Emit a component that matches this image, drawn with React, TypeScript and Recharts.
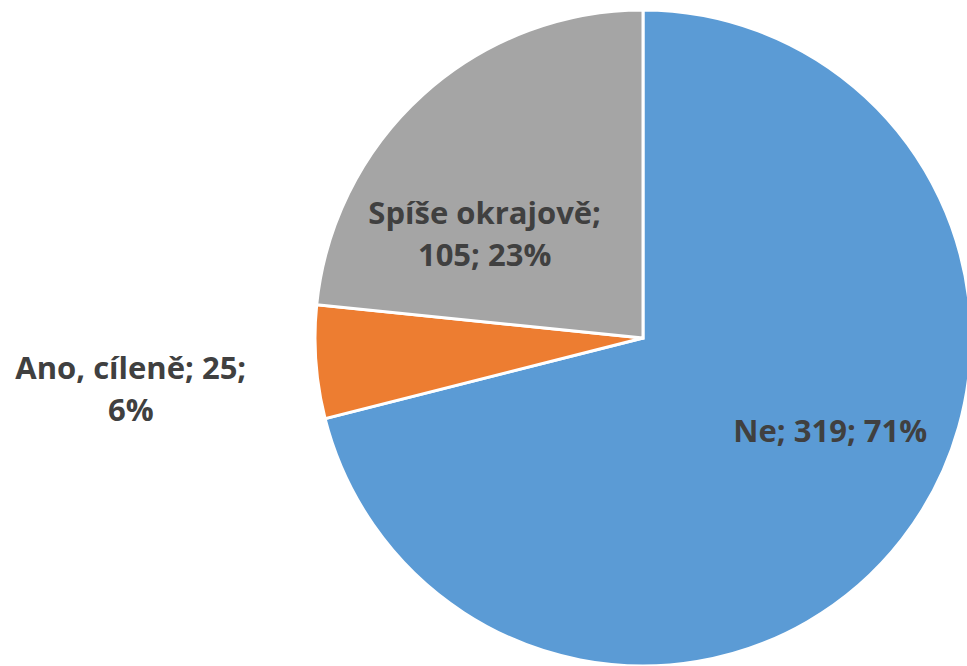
import React from 'react';
import { PieChart, Pie, Cell } from 'recharts';

const CATEGORIES = ['Ne', 'Ano, cíleně', 'Spíše okrajově'];
const COUNTS = [319, 25, 105];
const PERCENTS = ['71%', '6%', '23%'];
const COLORS = ['#5B9BD5', '#ED7D31', '#A5A5A5'];

// label placement per slice: radius factor and angle shift (degrees), plus line breaks
const LABEL_LAYOUT = [
  { rf: 0.64, shift: 11, lines: (i: number) => [`${CATEGORIES[i]}; ${COUNTS[i]}; ${PERCENTS[i]}`] },
  { rf: 1.57, shift: 1.7, lines: (i: number) => [`${CATEGORIES[i]}; ${COUNTS[i]};`, PERCENTS[i]] },
  { rf: 0.575, shift: 15, lines: (i: number) => [`${CATEGORIES[i]};`, `${COUNTS[i]}; ${PERCENTS[i]}`] },
];

const data = CATEGORIES.map((name, i) => ({ name, value: COUNTS[i] }));

const RAD = Math.PI / 180;
const LINE_H = 42;
const BASE_NUDGE = -3;

const renderLabel = (props: any) => {
  const { cx, cy, midAngle, outerRadius, index } = props;
  const layout = LABEL_LAYOUT[index];
  const a = (midAngle + layout.shift) * RAD;
  const r = outerRadius * layout.rf;
  const x = cx + r * Math.cos(a);
  const y = cy - r * Math.sin(a) + BASE_NUDGE;
  const lines = layout.lines(index);
  const top = y - ((lines.length - 1) * LINE_H) / 2;
  return (
    <text
      key={`lbl-${index}`}
      x={x}
      y={top}
      textAnchor="middle"
      dominantBaseline="central"
      fill="#404040"
      fontFamily="'Open Sans', sans-serif"
      fontWeight={700}
      fontSize={31}
    >
      {lines.map((ln, k) => (
        <tspan key={k} x={x} dy={k === 0 ? 0 : LINE_H}>
          {ln}
        </tspan>
      ))}
    </text>
  );
};

export default function App() {
  return (
    <div style={{ position: 'absolute', left: 0, top: 0, width: 967, height: 666, background: '#fff', overflow: 'hidden' }}>
      <PieChart width={967} height={666} margin={{ top: 0, right: 0, bottom: 0, left: 0 }}>
        <Pie
          data={data}
          dataKey="value"
          nameKey="name"
          cx={643}
          cy={338}
          outerRadius={328}
          startAngle={90}
          endAngle={-270}
          stroke="#ffffff"
          strokeWidth={3}
          labelLine={false}
          label={renderLabel}
          isAnimationActive={false}
        >
          {data.map((d, i) => (
            <Cell key={d.name} fill={COLORS[i]} />
          ))}
        </Pie>
      </PieChart>
    </div>
  );
}
